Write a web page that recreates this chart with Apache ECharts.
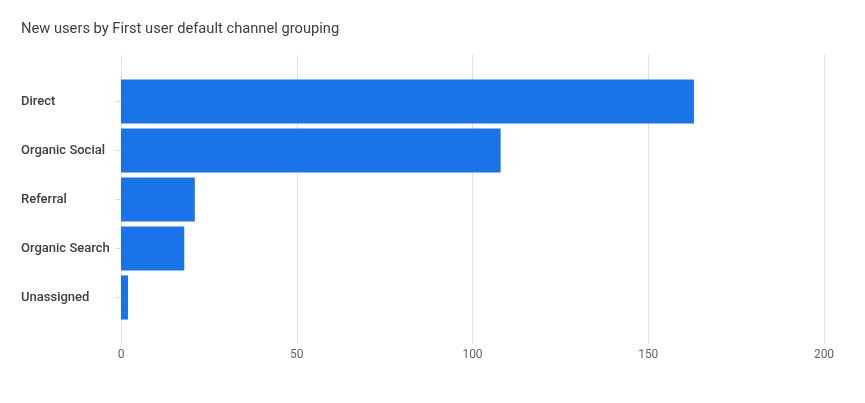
<!DOCTYPE html>
<html>
<head>
<meta charset="utf-8">
<script src="https://cdn.jsdelivr.net/npm/echarts@6/dist/echarts.min.js"></script>
<style>html,body{margin:0;padding:0;background:#fff;}#c{width:865px;height:403px;}</style>
</head>
<body>
<div id="c"></div>
<script>
var categories = ['Direct', 'Organic Social', 'Referral', 'Organic Search', 'Unassigned'];
var newUsers = [163, 108, 21, 18, 2];
var xTicks = [0, 50, 100, 150, 200];

var chart = echarts.init(document.getElementById('c'));
chart.setOption({
  animation: false,
  title: {
    text: 'New users by First user default channel grouping',
    left: 16, top: 17,
    textStyle: {fontFamily: 'Roboto', fontSize: 14.7, fontWeight: 'normal', color: '#3c4043'}
  },
  grid: [
    {left: 121, right: 41, top: 77, height: 245},
    {left: 121, right: 41, top: 55, height: 289}
  ],
  xAxis: [
    {gridIndex: 0, type: 'value', min: xTicks[0], max: xTicks[xTicks.length - 1], interval: 50,
     show: false, splitLine: {show: false}},
    {gridIndex: 1, type: 'value', min: xTicks[0], max: xTicks[xTicks.length - 1], interval: 50,
     axisLine: {show: false}, axisTick: {show: false},
     axisLabel: {margin: 5, fontFamily: 'Roboto', fontSize: 12, color: '#5f6368'},
     splitLine: {show: true, lineStyle: {color: '#e0e0e0', width: 1}}}
  ],
  yAxis: [
    {gridIndex: 0, type: 'category', data: categories, inverse: true,
     axisLine: {show: false},
     axisTick: {show: true, alignWithLabel: true, length: 6, lineStyle: {color: '#dadce0'}},
     axisLabel: {align: 'left', margin: 100, padding: [2, 0, 0, 0], fontFamily: 'Roboto', fontSize: 13, fontWeight: 500, color: '#3c4043'}},
    {gridIndex: 1, type: 'category', data: [], show: false}
  ],
  series: [{
    type: 'bar', xAxisIndex: 0, yAxisIndex: 0,
    data: newUsers, barCategoryGap: '10%',
    itemStyle: {color: '#1a73e8'}
  }]
});
</script>
</body>
</html>
